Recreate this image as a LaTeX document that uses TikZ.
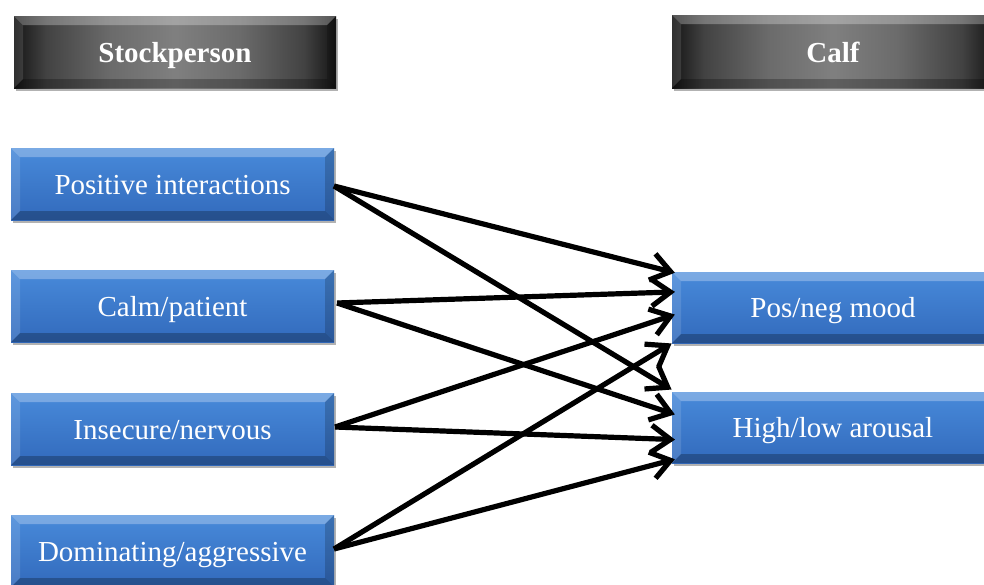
\documentclass[tikz,border=0pt]{standalone}
\usepackage{fontspec}
\setmainfont{Liberation Serif}
\usetikzlibrary{arrows.meta,calc,shadows}
\definecolor{bluetop}{RGB}{72,138,218}
\definecolor{bluebot}{RGB}{50,106,188}
\pgfdeclarehorizontalshading{hdrshade}{100bp}{color(0bp)=(black!92); color(25bp)=(black!92); color(30bp)=(black!74); color(40bp)=(black!58); color(50bp)=(black!50); color(60bp)=(black!58); color(70bp)=(black!74); color(75bp)=(black!92); color(100bp)=(black!92)}
\pgfarrowsdeclare{myvee}{myvee}
{\pgfarrowsleftextend{-22pt}\pgfarrowsrightextend{1.5pt}}
{%
  \pgfsetdash{}{0pt}%
  \pgfsetmiterjoin
  \pgfsetbuttcap
  \pgfpathmoveto{\pgfpoint{-19pt}{13.5pt}}%
  \pgfpathlineto{\pgfpoint{0pt}{0pt}}%
  \pgfpathlineto{\pgfpoint{-19pt}{-13.5pt}}%
  \pgfusepathqstroke
}
\tikzset{
  box/.style={inner sep=0pt, outer sep=0pt, anchor=north west, text=white,
    drop shadow={shadow xshift=2pt, shadow yshift=-3pt, opacity=0.3, fill=black}},
  bluebox/.style={box, top color=bluetop, bottom color=bluebot,
    font=\fontsize{29}{34}\selectfont, text height=20pt, text depth=0pt},
  darkbox/.style={box, shading=hdrshade,
    font=\bfseries\fontsize{29}{34}\selectfont, text height=21pt, text depth=0pt},
  link/.style={line width=5.2pt, -myvee},
}
\newcommand\bevelit[1]{%
  \fill[white,opacity=0.28] (#1.north west) -- (#1.north east) -- ($(#1.north east)+(-9,9)$) -- ($(#1.north west)+(9,9)$) -- cycle;
  \fill[white,opacity=0.12] (#1.north west) -- ($(#1.north west)+(9,9)$) -- ($(#1.south west)+(9,-9)$) -- (#1.south west) -- cycle;
  \fill[black,opacity=0.18] (#1.north east) -- ($(#1.north east)+(-9,9)$) -- ($(#1.south east)+(-9,-9)$) -- (#1.south east) -- cycle;
  \fill[black,opacity=0.25] (#1.south west) -- ($(#1.south west)+(9,-9)$) -- ($(#1.south east)+(-9,-9)$) -- (#1.south east) -- cycle;
}
\begin{document}
\begin{tikzpicture}[x=1pt,y=-1pt]
\useasboundingbox (0,0) rectangle (984,584);
\clip (0,0) rectangle (984,584);
% headers
\node[darkbox, minimum width=322pt, minimum height=72pt] (sp) at (14,16) {Stockperson};
\node[darkbox, minimum width=322pt, minimum height=73pt] (cf) at (672,15) {Calf};
% left boxes
\node[bluebox, minimum width=323pt, minimum height=72pt] (pi) at (11,148) {Positive interactions};
\node[bluebox, minimum width=323pt, minimum height=72pt] (cp) at (11,270) {Calm/patient};
\node[bluebox, minimum width=323pt, minimum height=72pt] (in) at (11,393) {Insecure/nervous};
\node[bluebox, minimum width=323pt, minimum height=72pt] (da) at (11,515) {Dominating/aggressive};
% right boxes
\node[bluebox, minimum width=322pt, minimum height=71pt] (pn) at (672,272) {Pos/neg mood};
\node[bluebox, minimum width=322pt, minimum height=71pt] (hl) at (672,392) {High/low arousal};
\foreach \b in {sp,cf,pi,cp,in,da,pn,hl}{\bevelit{\b}}
% connectors
\draw[link] ($(pi.east)+(0,2)$) -- (pn.north west);
\draw[link] ($(pi.east)+(0,2)$) -- ($(hl.north west)+(-3,-4)$);
\draw[link] ($(cp.east)+(3,-3)$) -- ($(pn.north west)+(0,20)$);
\draw[link] ($(cp.east)+(3,-3)$) -- ($(hl.west)+(0,-14)$);
\draw[link] ($(in.east)+(1,-2)$) -- ($(pn.west)+(0,8)$);
\draw[link] ($(in.east)+(1,-2)$) -- ($(hl.west)+(0,12)$);
\draw[link] ($(da.east)+(0,-2)$) -- ($(pn.south west)+(-3,2)$);
\draw[link] ($(da.east)+(0,-2)$) -- ($(hl.south west)+(0,-3)$);
\end{tikzpicture}
\end{document}
